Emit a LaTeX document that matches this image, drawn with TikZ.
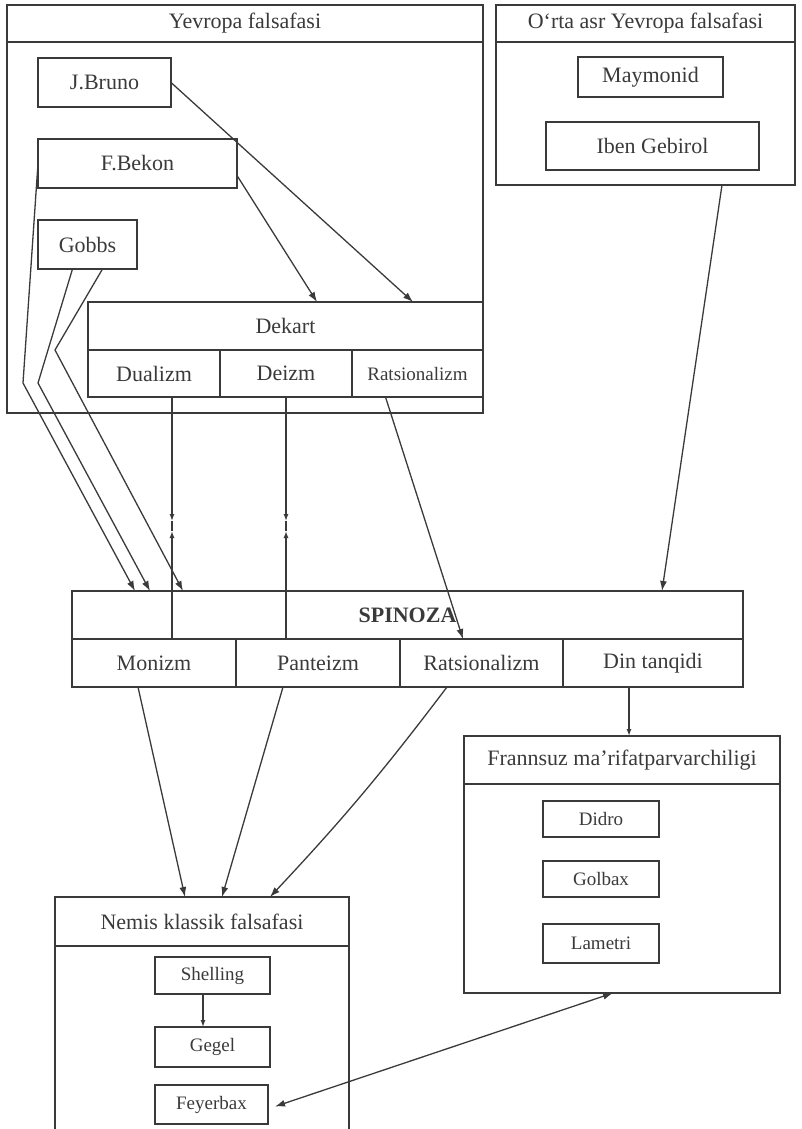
\documentclass[tikz,border=0pt]{standalone}
\usepackage{fontspec}
\setmainfont{Liberation Serif}
\usetikzlibrary{arrows.meta}
\definecolor{ink}{HTML}{3A3A3A}
\begin{document}
\begin{tikzpicture}[x=1pt, y=-1pt, ink, line width=1.3pt,
    box/.style={draw=ink, rectangle, inner sep=0pt, outer sep=0pt, font=\fontsize{22}{25}\selectfont},
    namebox/.style={box, font=\fontsize{19}{22}\selectfont},
    arr/.style={-{Latex[length=10pt,width=7pt]}},
    tinyarr/.style={-{Latex[length=7pt,width=5pt]}},
    dblarr/.style={{Latex[length=10pt,width=7pt]}-{Latex[length=10pt,width=7pt]}}]
    \useasboundingbox (0,0) rectangle (801,1129);

    % Yevropa falsafasi
    \node[box, minimum width=476pt, minimum height=37pt] (yevhead) at (245,23.5) {Yevropa falsafasi};
    \node[box, minimum width=476pt, minimum height=371pt] (yevbody) at (245,227.5) {};
    \node[box, minimum width=133pt, minimum height=49pt] (bruno) at (104.5,82.5) {J.Bruno};
    \node[box, minimum width=199pt, minimum height=49pt] (bekon) at (137.5,163.5) {F.Bekon};
    \node[box, minimum width=99pt, minimum height=49pt] (gobbs) at (87.5,244.5) {Gobbs};
    \node[box, minimum width=395pt, minimum height=48pt] (dekart) at (285.5,326) {Dekart};
    \node[box, minimum width=132pt, minimum height=47pt] (dualizm) at (154,373.5) {Dualizm};
    \node[box, minimum width=132pt, minimum height=47pt] (deizm) at (286,373.5) {Deizm};
    \node[namebox, minimum width=131pt, minimum height=47pt] (ratsdek) at (417.5,373.5) {Ratsionalizm};

    % O'rta asr
    \node[box, minimum width=299pt, minimum height=37pt] (orthead) at (645.5,23.5) {O‘rta asr Yevropa falsafasi};
    \node[box, minimum width=299pt, minimum height=143pt] (ortbody) at (645.5,113.5) {};
    \node[box, minimum width=145pt, minimum height=40pt] (maymonid) at (650.5,77) {Maymonid};
    \node[box, minimum width=213pt, minimum height=48pt] (gebirol) at (652.5,146) {Iben Gebirol};

    % Spinoza
    \node[box, minimum width=671pt, minimum height=48pt, font=\fontsize{22}{25}\selectfont\bfseries] (spinoza) at (407.5,615) {SPINOZA};
    \node[box, minimum width=164pt, minimum height=48pt] (monizm) at (154,663) {Monizm};
    \node[box, minimum width=164pt, minimum height=48pt] (panteizm) at (318,663) {Panteizm};
    \node[box, minimum width=163pt, minimum height=48pt] (ratss) at (481.5,663) {Ratsionalizm};
    \node[box, minimum width=180pt, minimum height=48pt] (din) at (653,663) {Din tanqidi};

    % Frannsuz
    \node[box, minimum width=316pt, minimum height=48pt] (frhead) at (622,760) {Frannsuz ma’rifatparvarchiligi};
    \node[box, minimum width=316pt, minimum height=209pt] (frbody) at (622,888.5) {};
    \node[namebox, minimum width=116pt, minimum height=36pt] (didro) at (601,819) {Didro};
    \node[namebox, minimum width=116pt, minimum height=36pt] (golbax) at (601,879) {Golbax};
    \node[namebox, minimum width=116pt, minimum height=39pt] (lametri) at (601,943.5) {Lametri};

    % Nemis klassik
    \node[box, minimum width=294pt, minimum height=49pt] (nmhead) at (202,921.5) {Nemis klassik falsafasi};
    \draw (nmhead.south west) -- (55,1140);
    \draw (nmhead.south east) -- (349,1140);
    \node[namebox, minimum width=115pt, minimum height=37pt] (shelling) at (212.5,975.5) {Shelling};
    \node[namebox, minimum width=115pt, minimum height=40pt] (gegel) at (212.5,1047) {Gegel};
    \node[namebox, minimum width=113pt, minimum height=39pt] (feyerbax) at (211.5,1104.5) {Feyerbax};

    % Dekartga
    \draw[arr] (bruno.east) -- ([xshift=127.5pt]dekart.north);
    \draw[arr] ([yshift=-12pt]bekon.east) -- ([xshift=31.5pt]dekart.north);

    % Spinozaga
    \draw[arr] (bekon.west) -- (23,383) -- ([xshift=63pt]spinoza.north west);
    \draw[arr] ([xshift=-15pt]gobbs.south) -- (38,383) -- ([xshift=78pt]spinoza.north west);
    \draw[arr] ([xshift=15pt]gobbs.south) -- (55,350) -- ([xshift=111pt]spinoza.north west);
    \coordinate (dd1) at (172,521);
    \coordinate (du1) at (172,531);
    \coordinate (dd2) at (286,521);
    \coordinate (du2) at (286,531);
    \draw[tinyarr] ([xshift=18pt]dualizm.south) -- (dd1);
    \draw[tinyarr] ([xshift=18pt]monizm.north) -- (du1);
    \draw (dd1) -- (du1);
    \draw[tinyarr] (deizm.south) -- (dd2);
    \draw[tinyarr] ([xshift=-32pt]panteizm.north) -- (du2);
    \draw (dd2) -- (du2);
    \draw[arr] ([xshift=-32pt]ratsdek.south) -- ([xshift=-18.5pt]ratss.north);
    \draw[arr] ([xshift=76.5pt]ortbody.south) -- ([xshift=-81pt]spinoza.north east);

    % Spinozadan
    \draw[arr] ([xshift=-16pt]monizm.south) -- ([xshift=-17pt]nmhead.north);
    \draw[arr] ([xshift=-35pt]panteizm.south) -- ([xshift=20pt]nmhead.north);
    \draw[arr] ([xshift=-34.5pt]ratss.south) to[bend left=3] ([xshift=68pt]nmhead.north);
    \draw[tinyarr] ([xshift=-24pt]din.south) -- ([xshift=7pt]frhead.north);

    \draw[tinyarr] ([xshift=-9.5pt]shelling.south) -- ([xshift=-9.5pt]gegel.north);
    \draw[dblarr] ([xshift=-9pt]frbody.south) -- ([xshift=7pt,yshift=-2pt]feyerbax.east);
\end{tikzpicture}
\end{document}
